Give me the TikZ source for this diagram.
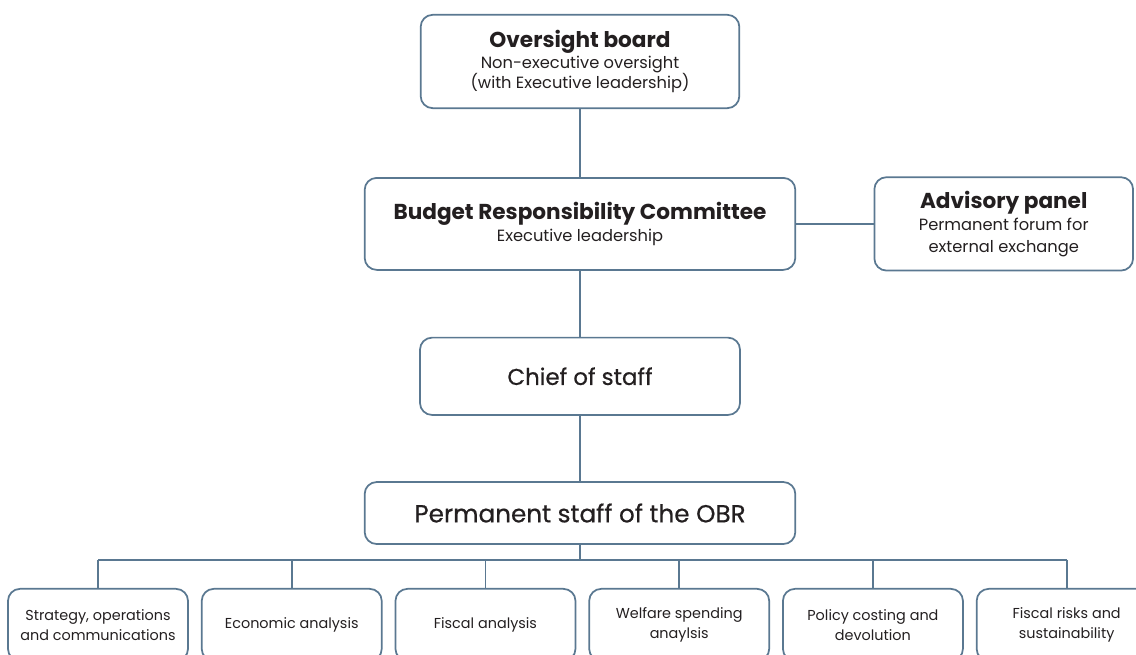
\documentclass[tikz,border=0pt]{standalone}
\usepackage{fontspec}
\setmainfont{Poppins}
\newfontfamily\medfont{Poppins}[FakeBold=0.6]
\usetikzlibrary{positioning}
\definecolor{obrline}{RGB}{90,120,145}
\definecolor{obrtext}{RGB}{35,31,32}

\begin{document}
\begin{tikzpicture}[x=0.75pt, y=-0.75pt, node distance=9pt,
        unit/.style={draw=obrline, line width=1.3pt, rounded corners=9pt, align=center, text=obrtext, inner sep=2pt},
        team/.style={unit, minimum width=135pt, minimum height=54pt, anchor=north, font=\fontsize{10.8}{15}\selectfont},
        link/.style={draw=obrline, line width=1.3pt}]
        \clip (0,0) rectangle (1136,655);
        \node[unit, minimum width=239pt, minimum height=70pt, font=\fontsize{12.2}{15.5}\selectfont] (board) at (580,61.5)
            {{\fontsize{16.2}{19}\selectfont\bfseries Oversight board}\\Non-executive oversight\\(with Executive leadership)};
        \node[unit, below=51pt of board, minimum width=323pt, minimum height=69pt, font=\fontsize{12.2}{17}\selectfont] (brc)
            {{\fontsize{16.2}{19}\selectfont\bfseries Budget Responsibility Committee}\\Executive leadership};
        \node[unit, right=58pt of brc, minimum width=194pt, minimum height=70pt, font=\fontsize{12.2}{16.5}\selectfont] (panel)
            {{\fontsize{16.2}{19}\selectfont\bfseries Advisory panel}\\Permanent forum for\\external exchange};
        \node[unit, below=49.5pt of brc, minimum width=240pt, minimum height=58pt, font=\medfont\fontsize{17.2}{20}\selectfont] (chief) {Chief of staff};
        \node[unit, below=49pt of chief, minimum width=323pt, minimum height=46.5pt, font=\medfont\fontsize{18.5}{22}\selectfont] (staff) {Permanent staff of the OBR};
        \coordinate (bus) at (0,560);

        \node[team] (t1) at (98,588) {Strategy, operations\\and communications};
        \node[team, right=of t1.north east, anchor=north west] (t2) {Economic analysis};
        \node[team, right=of t2.north east, anchor=north west] (t3) {Fiscal analysis};
        \node[team, right=of t3.north east, anchor=north west] (t4) {Welfare spending\\anaylsis};
        \node[team, right=of t4.north east, anchor=north west] (t5) {Policy costing and\\devolution};
        \node[team, right=of t5.north east, anchor=north west] (t6) {Fiscal risks and\\sustainability};

        \draw[link] (board) -- (brc);
        \draw[link] (brc) -- (panel);
        \draw[link] (brc) -- (chief);
        \draw[link] (chief) -- (staff);
        \draw[link] (staff) -- (staff |- bus);
        \draw[link] (t1.north |- bus) -- (t6.north |- bus);
        \foreach \t in {t1,t2,t3,t4,t5,t6}
            \draw[link] (\t.north |- bus) -- (\t);
\end{tikzpicture}
\end{document}
